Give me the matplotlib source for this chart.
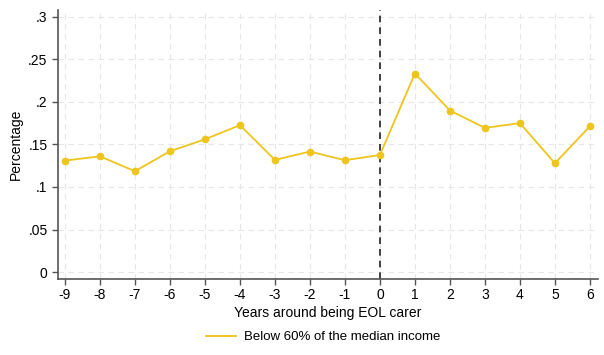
import matplotlib
matplotlib.use("Agg")
import matplotlib.pyplot as plt
from matplotlib.ticker import FuncFormatter

plt.rcParams['font.family'] = ['Liberation Sans', 'DejaVu Sans']
plt.rcParams['axes.unicode_minus'] = False

years = [-9, -8, -7, -6, -5, -4, -3, -2, -1, 0, 1, 2, 3, 4, 5, 6]
below_60 = [0.131, 0.136, 0.1185, 0.142, 0.156, 0.1726, 0.1318, 0.1416,
            0.1314, 0.1376, 0.2333, 0.1898, 0.1694, 0.175, 0.1278, 0.1714]
y_ticks = [0, 0.05, 0.1, 0.15, 0.2, 0.25, 0.3]

gold = '#efc41c'
axis_gray = '#555555'

fig = plt.figure(figsize=(6.04, 3.55), dpi=100)
ax = fig.add_axes([0.096, 0.213, 0.894, 0.759])

ax.plot(years, below_60, '-o', color=gold, lw=1.3, markersize=4.5,
        label='Below 60% of the median income', zorder=3)
ax.axvline(0, color='#222222', ls=(0, (4, 3)), lw=1.2, zorder=2)

ax.set_xlim(-9.2, 6.23)
ax.set_ylim(-0.0086, 0.308)
ax.set_xticks(years)
ax.set_yticks(y_ticks)


def fmt(v, pos):
    s = ('%g' % v)
    return s[1:] if s.startswith('0.') else s


ax.yaxis.set_major_formatter(FuncFormatter(fmt))
ax.grid(True, color='#e6e6e6', ls=(0, (5, 4)), lw=0.8, zorder=0)

for side in ['top', 'right']:
    ax.spines[side].set_visible(False)
for side in ['left', 'bottom']:
    ax.spines[side].set_color(axis_gray)
    ax.spines[side].set_linewidth(1.2)
ax.tick_params(colors=axis_gray, labelcolor='black', labelsize=10, length=4, width=1)
ax.tick_params(axis='x', pad=2)

ax.set_xlabel('Years around being EOL carer', fontsize=10, labelpad=3)
ax.set_ylabel('Percentage', fontsize=10, labelpad=4)

leg = fig.legend(loc='center', bbox_to_anchor=(0.535, 0.05), frameon=False, fontsize=9.5,
                 handlelength=2.3, handletextpad=0.6)
for h in leg.legend_handles:
    h.set_marker('')

fig.savefig('out.png', dpi=100)
